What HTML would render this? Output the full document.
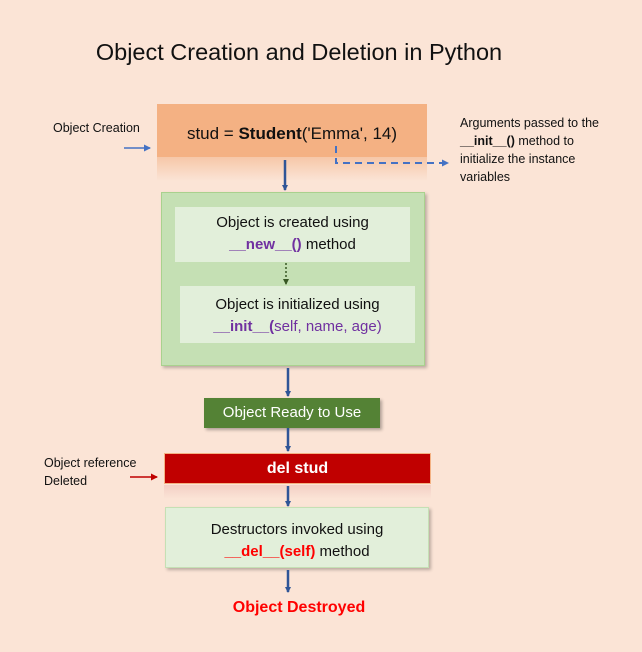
<!DOCTYPE html>
<html><head><meta charset="utf-8"><style>
body{margin:0;width:642px;height:652px;background:#fbe4d6;position:relative;overflow:hidden;font-family:"Liberation Sans",sans-serif;color:#111}
.a{position:absolute}
.box{position:absolute;box-sizing:border-box;text-align:center}
.t{font-size:15px;line-height:22px}
.p{color:#7030a0}
</style></head><body>
<div class="a" style="left:0;width:598px;top:39px;text-align:center;font-size:23.5px">Object Creation and Deletion in Python</div>

<div class="box" style="left:157px;top:104px;width:270px;height:53px;background:#f4b183;font-size:17px;line-height:60px">stud = <b>Student</b>('Emma', 14)</div>
<div class="a" style="left:157px;top:157px;width:270px;height:24px;background:linear-gradient(#f6c7a8,rgba(251,228,214,0))"></div>

<div class="a" style="left:53px;top:121px;font-size:12.5px">Object Creation</div>
<div class="a" style="left:460px;top:114px;font-size:12.5px;line-height:18px">Arguments passed to the<br><b>__init__()</b> method to<br>initialize the instance<br>variables</div>
<div class="a" style="left:44px;top:454px;font-size:12.5px;line-height:18px">Object reference<br>Deleted</div>

<div class="box" style="left:161px;top:192px;width:264px;height:174px;background:#c5e0b4;border:1px solid #a9d18e;box-shadow:2px 2px 3px rgba(0,0,0,.25)"></div>
<div class="box t" style="left:175px;top:207px;width:235px;height:55px;background:#e2efda;padding-top:5px">Object is created using<br><b class="p">__new__()</b> method</div>
<div class="box t" style="left:180px;top:286px;width:235px;height:57px;background:#e2efda;padding-top:8px">Object is initialized using<br><b class="p">__init__(</b><span class="p">self, name, age)</span></div>

<div class="box t" style="left:204px;top:398px;width:176px;height:30px;background:#548235;color:#fff;line-height:30px;box-shadow:2px 2px 3px rgba(0,0,0,.3)">Object Ready to Use</div>

<div class="box" style="left:164px;top:453px;width:267px;height:31px;background:#c00000;border:1px solid #f4b183;color:#fff;font-weight:bold;font-size:16px;line-height:29px">del stud</div>
<div class="a" style="left:164px;top:485px;width:267px;height:14px;background:linear-gradient(#f3cfc5,rgba(251,228,214,0))"></div>

<div class="box t" style="left:165px;top:507px;width:264px;height:61px;background:#e2efda;border:1px solid #c5e0b4;padding-top:11px;box-shadow:2px 2px 3px rgba(0,0,0,.25)">Destructors invoked using<br><b style="color:#f00">__del__(self)</b> method</div>

<div class="a" style="left:0;width:598px;top:599px;text-align:center;font-size:16px;font-weight:bold;color:#f00">Object Destroyed</div>

<svg class="a" style="left:0;top:0" width="642" height="652">
<defs>
<marker id="b" markerWidth="6" markerHeight="6" refX="5" refY="3" orient="auto" markerUnits="userSpaceOnUse"><path d="M0,0L6,3L0,6z" fill="#2f5597"/></marker>
<marker id="l" markerWidth="7" markerHeight="7" refX="6" refY="3.5" orient="auto" markerUnits="userSpaceOnUse"><path d="M0,0L7,3.5L0,7z" fill="#4472c4"/></marker>
<marker id="r" markerWidth="7" markerHeight="7" refX="6" refY="3.5" orient="auto" markerUnits="userSpaceOnUse"><path d="M0,0L7,3.5L0,7z" fill="#c00000"/></marker>
<marker id="g" markerWidth="6" markerHeight="6" refX="5" refY="3" orient="auto" markerUnits="userSpaceOnUse"><path d="M0,0L6,3L0,6z" fill="#385723"/></marker>
</defs>
<g stroke="#2f5597" stroke-width="2.5" marker-end="url(#b)">
<line x1="285" y1="160" x2="285" y2="190"/>
<line x1="288" y1="368" x2="288" y2="396"/>
<line x1="288" y1="428" x2="288" y2="451"/>
<line x1="288" y1="486" x2="288" y2="506"/>
<line x1="288" y1="570" x2="288" y2="592"/>
</g>
<line x1="286" y1="263" x2="286" y2="284" stroke="#385723" stroke-width="1.5" stroke-dasharray="2,2" marker-end="url(#g)"/>
<line x1="124" y1="148" x2="150" y2="148" stroke="#4472c4" stroke-width="1.5" marker-end="url(#l)"/>
<line x1="130" y1="477" x2="157" y2="477" stroke="#c00000" stroke-width="1.5" marker-end="url(#r)"/>
<path d="M336,146V163H448" fill="none" stroke="#4472c4" stroke-width="2" stroke-dasharray="7,5" marker-end="url(#l)"/>
</svg>
</body></html>
